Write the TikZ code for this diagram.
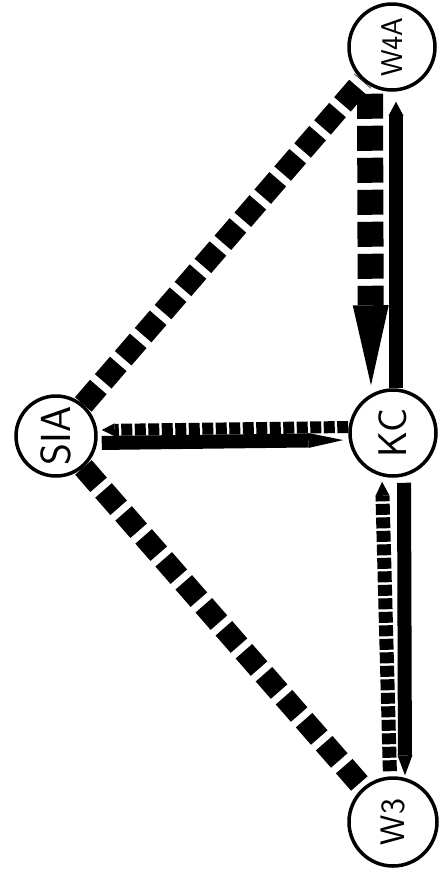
\documentclass[tikz,border=0pt]{standalone}
\usetikzlibrary{arrows.meta,backgrounds}
\begin{document}
\begin{tikzpicture}[x=1pt,y=-1pt,
  stn/.style={circle,draw,fill=white,line width=3.5pt,minimum size=#1,inner sep=0pt,font=\sffamily},
  bigdash/.style={line width=22pt,dash pattern=on 23pt off 7.5pt},
  wdash/.style={line width=26pt,dash pattern=on 25pt off 7pt},
  finedash/.style={dash pattern=on 11pt off 2.5pt},
  solidln/.style={line width=14pt}]
\useasboundingbox (0,0) rectangle (439,871);
\node[stn=80pt] (sia) at (56,436) {\fontsize{42}{44}\selectfont\rotatebox{90}{SIA}};
\node[stn=86pt] (kc) at (393,433) {\fontsize{40}{44}\selectfont\rotatebox{90}{KC}};
\node[stn=86pt] (w4a) at (392,47) {\fontsize{30}{34}\selectfont\rotatebox{90}{W4A}};
\node[stn=88pt] (w3) at (393,822) {\fontsize{34}{38}\selectfont\rotatebox{90}{W3}};
\begin{pgfonlayer}{background}
\draw[bigdash] (sia) -- (w4a);
\draw[bigdash] (sia) -- (w3);
\draw[wdash,-{Triangle[length=80pt,width=36pt,line width=0pt]},shorten <=2pt,shorten >=3pt]
  ([xshift=-22pt]w4a.south) -- ([xshift=-22pt]kc.north);
\draw[solidln,-{Triangle[length=14pt,width=15pt,line width=0pt]},shorten >=10pt]
  ([xshift=3pt]kc.north) -- ([xshift=4pt]w4a.south);
\draw[finedash,line width=12pt,-{Triangle[length=13pt,width=13pt,line width=0pt]},shorten >=4pt]
  ([yshift=6pt]kc.west) -- ([yshift=6pt]sia.east);
\draw[solidln,-{Triangle[length=35pt,width=15pt,line width=0pt]},shorten <=4pt,shorten >=5pt]
  ([yshift=-7pt]sia.east) -- ([yshift=-7pt]kc.west);
\draw[finedash,line width=14pt,-{Triangle[length=14pt,width=14pt,line width=0pt]},shorten <=5pt,shorten >=4pt]
  ([xshift=-3pt]w3.north) -- ([xshift=-11pt]kc.south);
\draw[solidln,-{Triangle[length=20pt,width=15pt,line width=0pt]},shorten <=5pt,shorten >=1pt]
  ([xshift=11pt]kc.south) -- ([xshift=12pt]w3.north);
\end{pgfonlayer}
\end{tikzpicture}
\end{document}
